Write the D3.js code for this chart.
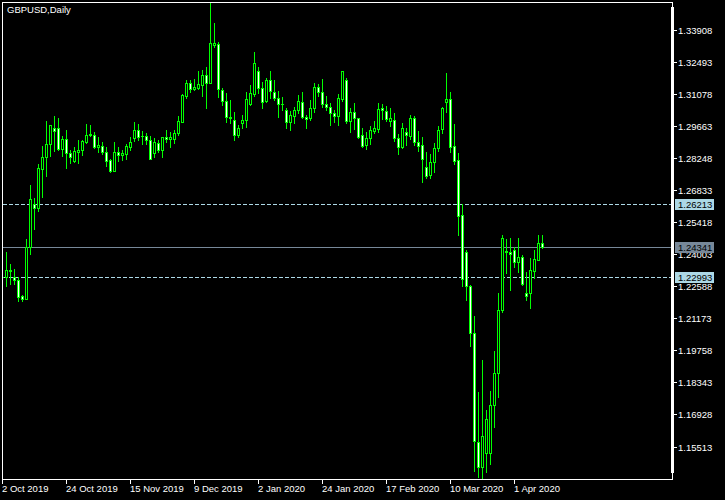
<!DOCTYPE html>
<html><head><meta charset="utf-8">
<script src="https://cdn.jsdelivr.net/npm/d3@7"></script>
<style>html,body{margin:0;padding:0;background:#000;overflow:hidden}</style>
</head><body>
<script>
const chartTitle = "GBPUSD,Daily";
const openP = [1.2300,1.2302,1.2334,1.2302,1.2289,1.2218,1.2205,1.2435,1.2623,1.2606,1.2780,1.2831,1.2888,1.2960,1.2959,1.2869,1.2910,1.2851,1.2813,1.2856,1.2862,1.2900,1.2928,1.2930,1.2878,1.2879,1.2854,1.2819,1.2772,1.2856,1.2842,1.2845,1.2878,1.2917,1.2950,1.2923,1.2925,1.2906,1.2851,1.2895,1.2862,1.2920,1.2910,1.2910,1.2939,1.2988,1.3102,1.3159,1.3132,1.3137,1.3151,1.3193,1.3160,1.3328,1.3333,1.3128,1.3078,1.3003,1.2996,1.2931,1.2984,1.2994,1.3066,1.3109,1.3212,1.3136,1.3079,1.3171,1.3118,1.3094,1.3065,1.3038,1.2985,1.3015,1.3038,1.3076,1.3010,1.3006,1.3047,1.3140,1.3121,1.3068,1.3055,1.3028,1.3015,1.3089,1.3172,1.2992,1.3030,1.3003,1.2929,1.2885,1.2915,1.2949,1.2956,1.3047,1.3035,1.2993,1.2996,1.2917,1.2878,1.2941,1.2926,1.3006,1.2897,1.2885,1.2789,1.2753,1.2809,1.2871,1.2955,1.3076,1.3087,1.2879,1.2819,1.2575,1.2413,1.2264,1.2054,1.1575,1.1464,1.1526,1.1526,1.1736,1.1877,1.2156,1.2418,1.2414,1.2421,1.2370,1.2392,1.2230,1.2230,1.2329,1.2377,1.2451];
const highP = [1.2311,1.2413,1.2360,1.2338,1.2302,1.2223,1.2470,1.2709,1.2651,1.2801,1.2881,1.2990,1.2973,1.3013,1.3004,1.2925,1.2951,1.2863,1.2878,1.2907,1.2907,1.2978,1.2972,1.2943,1.2921,1.2897,1.2876,1.2822,1.2898,1.2878,1.2863,1.2888,1.2921,1.2987,1.2978,1.2947,1.2938,1.2926,1.2915,1.2907,1.2922,1.2951,1.2944,1.2951,1.3013,1.3109,1.3172,1.3172,1.3178,1.3213,1.3216,1.3231,1.3512,1.3425,1.3341,1.3136,1.3114,1.3084,1.3032,1.2973,1.3018,1.3121,1.3150,1.3296,1.3231,1.3165,1.3180,1.3212,1.3172,1.3124,1.3098,1.3047,1.3035,1.3054,1.3106,1.3121,1.3018,1.3084,1.3158,1.3153,1.3177,1.3103,1.3069,1.3040,1.3109,1.3212,1.3182,1.3047,1.3069,1.3006,1.2962,1.2944,1.2970,1.2991,1.3069,1.3065,1.3059,1.3047,1.3025,1.2932,1.2981,1.2960,1.3018,1.3015,1.2947,1.2922,1.2853,1.2844,1.2893,1.2969,1.3054,1.3202,1.3118,1.2977,1.2849,1.2625,1.2421,1.2267,1.2130,1.1794,1.1936,1.1715,1.1799,1.1977,1.2230,1.2488,1.2470,1.2473,1.2436,1.2473,1.2399,1.2326,1.2385,1.2421,1.2488,1.2488];
const lowP = [1.2293,1.2262,1.2271,1.2271,1.2196,1.2198,1.2204,1.2404,1.2516,1.2595,1.2657,1.2750,1.2837,1.2859,1.2863,1.2838,1.2785,1.2804,1.2809,1.2807,1.2842,1.2895,1.2926,1.2873,1.2856,1.2844,1.2794,1.2767,1.2771,1.2815,1.2819,1.2825,1.2863,1.2904,1.2907,1.2890,1.2890,1.2822,1.2834,1.2856,1.2834,1.2900,1.2878,1.2895,1.2929,1.2987,1.3091,1.3121,1.3128,1.3131,1.3103,1.3050,1.3158,1.3319,1.3098,1.3061,1.2988,1.2981,1.2907,1.2922,1.2959,1.2966,1.3062,1.3103,1.3114,1.3050,1.3074,1.3091,1.3084,1.3010,1.3040,1.2962,1.2951,1.2981,1.3025,1.3003,1.2962,1.2996,1.3032,1.3103,1.3054,1.3040,1.2973,1.2988,1.2973,1.3079,1.2981,1.2941,1.2956,1.2917,1.2878,1.2868,1.2888,1.2937,1.2944,1.3000,1.2991,1.2970,1.2903,1.2844,1.2871,1.2885,1.2912,1.2885,1.2859,1.2723,1.2738,1.2738,1.2767,1.2859,1.2937,1.3032,1.2853,1.2801,1.2488,1.2262,1.2201,1.1997,1.1447,1.1418,1.1413,1.1442,1.1475,1.1638,1.1774,1.2149,1.2319,1.2245,1.2348,1.2326,1.2267,1.2201,1.2164,1.2299,1.2375,1.2432];
const closeP = [1.2304,1.2333,1.2327,1.2288,1.2215,1.2204,1.2435,1.2645,1.2606,1.2782,1.2831,1.2888,1.2972,1.2948,1.2869,1.2910,1.2849,1.2831,1.2859,1.2863,1.2903,1.2928,1.2935,1.2878,1.2885,1.2853,1.2816,1.2770,1.2853,1.2842,1.2851,1.2881,1.2898,1.2950,1.2919,1.2927,1.2907,1.2825,1.2898,1.2863,1.2920,1.2911,1.2920,1.2938,1.2991,1.3105,1.3159,1.3134,1.3140,1.3153,1.3193,1.3160,1.3334,1.3336,1.3131,1.3078,1.3008,1.3010,1.2931,1.2961,1.2994,1.3087,1.3114,1.3246,1.3136,1.3074,1.3172,1.3124,1.3094,1.3065,1.3064,1.2985,1.3018,1.3040,1.3079,1.3010,1.3000,1.3047,1.3140,1.3121,1.3068,1.3053,1.3028,1.3015,1.3091,1.3212,1.2991,1.3030,1.3003,1.2922,1.2882,1.2915,1.2951,1.2959,1.3044,1.3038,1.3000,1.3003,1.2917,1.2878,1.2959,1.2928,1.3006,1.2897,1.2882,1.2822,1.2750,1.2811,1.2871,1.2950,1.3050,1.3088,1.2878,1.2816,1.2573,1.2292,1.2264,1.2054,1.1579,1.1464,1.1600,1.1674,1.1736,1.1877,1.2155,1.2473,1.2414,1.2402,1.2370,1.2392,1.2270,1.2220,1.2333,1.2380,1.2451,1.24341];
const dateLabels = ["2 Oct 2019","24 Oct 2019","15 Nov 2019","9 Dec 2019","2 Jan 2020","24 Jan 2020","17 Feb 2020","10 Mar 2020","1 Apr 2020"];
const dateLabelBar = [0,16,32,48,64,80,96,112,128];
const priceTickLabels = ["1.33908","1.32493","1.31078","1.29663","1.28248","1.26833","1.25418","1.24003","1.22588","1.21173","1.19758","1.18343","1.16928","1.15513"];
const dashedLevels = ["1.26213","1.22993"];
const lastPrice = "1.24341";

const W = 725, H = 500;
const font = "'Liberation Sans', Arial, sans-serif";
const n = openP.length;
const svg = d3.select("body").append("svg")
  .attr("width", W).attr("height", H)
  .style("display", "block").style("background", "#000")
  .attr("shape-rendering", "crispEdges");

const x = d3.scaleLinear().domain([0, n - 1]).range([2, 2 + 4 * (n - 1)]);
const y = d3.scaleLinear().domain([+priceTickLabels[priceTickLabels.length - 1], +priceTickLabels[0]]).range([447, 30.5]);
const row = v => Math.floor(y(v));

svg.append("defs").append("clipPath").attr("id", "plot")
  .append("rect").attr("x", 3).attr("y", 3).attr("width", 668).attr("height", 476);

// frame
svg.append("rect").attr("x", 2.5).attr("y", 2.5).attr("width", 670).attr("height", 477)
  .attr("fill", "none").attr("stroke", "#fff").attr("stroke-width", 1);
svg.append("rect").attr("x", 671).attr("y", 7).attr("width", 3).attr("height", 466).attr("fill", "#fff");

const plot = svg.append("g").attr("clip-path", "url(#plot)");

// horizontal levels
plot.selectAll("line.lvl").data(dashedLevels).join("line")
  .attr("x1", 3).attr("x2", 671)
  .attr("y1", d => row(+d) + 0.5).attr("y2", d => row(+d) + 0.5)
  .attr("stroke", "#add8e6").attr("stroke-dasharray", "4,2");
plot.append("line").attr("x1", 3).attr("x2", 671)
  .attr("y1", row(+lastPrice) + 0.5).attr("y2", row(+lastPrice) + 0.5)
  .attr("stroke", "#778899");

// candles
const idx = d3.range(n);
const cg = plot.selectAll("g.c").data(idx).join("g");
cg.append("rect")
  .attr("x", i => x(i)).attr("width", 1)
  .attr("y", i => Math.round(y(highP[i])))
  .attr("height", i => Math.round(y(lowP[i])) - Math.round(y(highP[i])) + 1)
  .attr("fill", "#00ff00");
cg.append("rect")
  .attr("x", i => x(i) - 1).attr("width", 3)
  .attr("y", i => Math.round(y(Math.max(openP[i], closeP[i]))))
  .attr("height", i => Math.round(y(Math.min(openP[i], closeP[i]))) - Math.round(y(Math.max(openP[i], closeP[i]))) + 1)
  .attr("fill", "#00ff00");
cg.append("rect")
  .attr("x", i => x(i)).attr("width", 1)
  .attr("y", i => Math.round(y(Math.max(openP[i], closeP[i]))) + 1)
  .attr("height", i => Math.max(0, Math.round(y(Math.min(openP[i], closeP[i]))) - Math.round(y(Math.max(openP[i], closeP[i]))) - 1))
  .attr("fill", i => closeP[i] >= openP[i] ? "#000" : "#fff");

// price axis
const pa = svg.append("g");
pa.selectAll("rect.t").data(priceTickLabels).join("rect")
  .attr("x", 674).attr("width", 3).attr("y", d => row(+d)).attr("height", 1).attr("fill", "#fff");
pa.selectAll("text.t").data(priceTickLabels).join("text")
  .attr("x", 678).attr("y", d => row(+d) + 4)
  .attr("fill", "#fff").style("font", "9.5px " + font).text(d => d);

// level boxes
const boxes = dashedLevels.map(d => ({v: d, bg: "#add8e6"})).concat([{v: lastPrice, bg: "#778899"}]);
const bg = svg.selectAll("g.b").data(boxes).join("g");
bg.append("rect").attr("x", 675).attr("width", 39)
  .attr("y", d => row(+d.v) - 5).attr("height", 11).attr("fill", d => d.bg);
bg.append("text").attr("x", 678).attr("y", d => row(+d.v) + 4)
  .attr("fill", "#000").style("font", "9.5px " + font).text(d => d.v);

// time axis
const ta = svg.append("g");
ta.selectAll("rect").data(dateLabelBar).join("rect")
  .attr("x", d => x(d)).attr("width", 1).attr("y", 480).attr("height", 4).attr("fill", "#fff");
ta.selectAll("text").data(dateLabels).join("text")
  .attr("x", (d, k) => x(dateLabelBar[k]))
  .attr("y", 492)
  .attr("fill", "#fff").style("font", "9.5px " + font).text(d => d);

// title
svg.append("text").attr("x", 7).attr("y", 13).attr("fill", "#fff")
  .style("font", "9.5px " + font).text(chartTitle);
</script>
</body></html>
